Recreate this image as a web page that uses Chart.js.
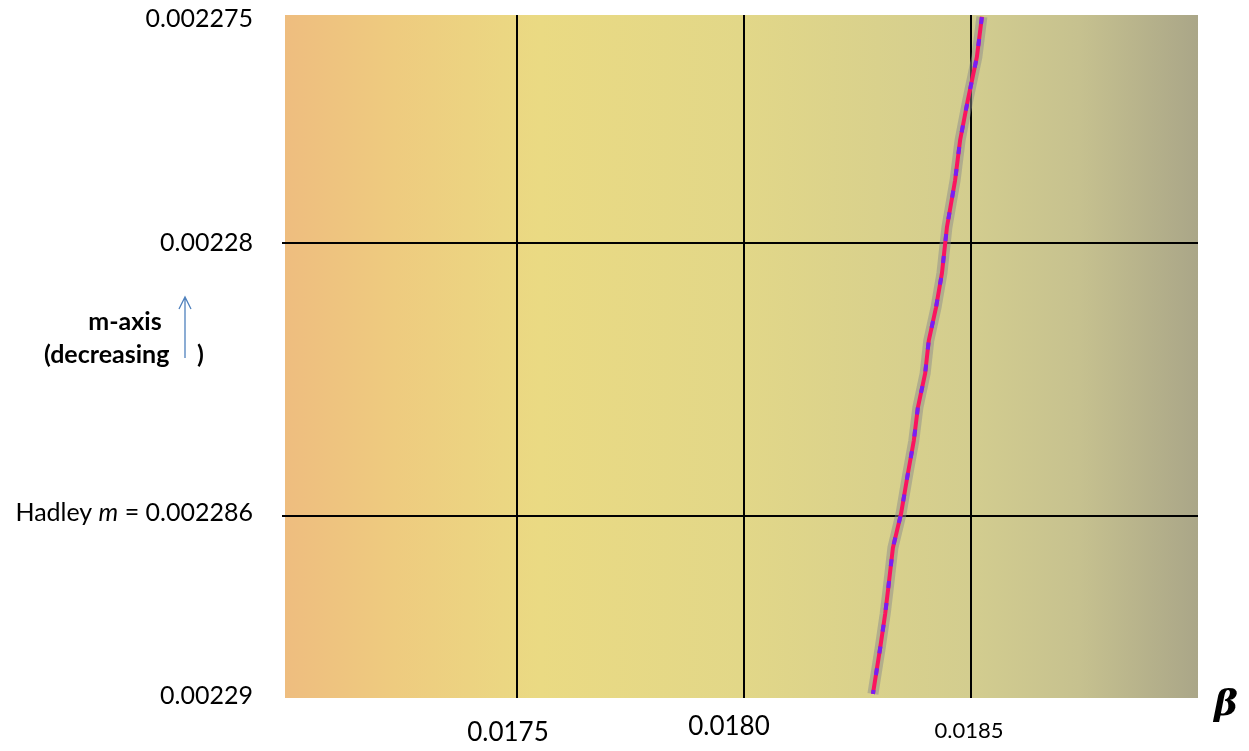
<!DOCTYPE html>
<html>
<head>
<meta charset="utf-8">
<script src="https://cdn.jsdelivr.net/npm/chart.js@4"></script>
<style>
  html, body { margin: 0; padding: 0; background: #fff; }
  #wrap { width: 1249px; height: 751px; }
</style>
</head>
<body>
<div id="wrap"><canvas id="betaChart" width="1249" height="751"></canvas></div>
<script>
// curve: beta (x) vs m (y, axis reversed)
const betaValues = [0.018284, 0.018300, 0.018311, 0.018317, 0.018328, 0.018346, 0.018361, 0.018374,
  0.018383, 0.018399, 0.018407, 0.018423, 0.018436, 0.018447, 0.018465, 0.018476, 0.018493, 0.018513, 0.018524];
const mValues = [0.00228991, 0.00228890, 0.00228815, 0.00228765, 0.00228670, 0.00228595, 0.00228507, 0.00228435,
  0.00228362, 0.00228287, 0.00228215, 0.00228142, 0.00228067, 0.00227966, 0.00227863, 0.00227775, 0.00227687, 0.00227592, 0.00227504];

// axis ticks
const xTicks = [0.0175, 0.0180, 0.0185];
const xTickLabels = ['0.0175', '0.0180', '0.0185'];
const yTicks = [0.002275, 0.00228, 0.002286, 0.00229];
const yTickLabels = ['0.002275', '0.00228', 'Hadley m = 0.002286', '0.00229'];
const yGridTicks = [0.00228, 0.002286];

const points = betaValues.map((b, i) => ({ x: b, y: mValues[i] }));

// fond en dégradé dans la zone du graphe
const backgroundPlugin = {
  id: 'bg',
  beforeDraw(chart) {
    const { ctx, chartArea: a } = chart;
    ctx.save();
    ctx.fillStyle = '#ffffff';
    ctx.fillRect(0, 0, chart.width, chart.height);
    const g = ctx.createLinearGradient(a.left, 0, a.right, 0);
    g.addColorStop(0, 'rgb(238,189,127)');
    g.addColorStop(0.12, 'rgb(238,203,127)');
    g.addColorStop(0.28, 'rgb(234,218,131)');
    g.addColorStop(0.5, 'rgb(226,215,136)');
    g.addColorStop(0.75, 'rgb(211,205,143)');
    g.addColorStop(0.87, 'rgb(198,193,143)');
    g.addColorStop(1, 'rgb(170,166,136)');
    ctx.fillStyle = g;
    ctx.fillRect(a.left, a.top, a.right - a.left, a.bottom - a.top);
    ctx.restore();
  }
};

// etiquetas de los ejes y notas
const labelsPlugin = {
  id: 'labels',
  afterDraw(chart) {
    const { ctx, chartArea: a } = chart;
    const xs = chart.scales.x, ys = chart.scales.y;
    ctx.save();
    ctx.fillStyle = '#000';
    ctx.textBaseline = 'middle';

    // y tick labels
    ctx.textAlign = 'right';
    yTicks.forEach((v, i) => {
      const py = ys.getPixelForValue(v) + (i === 0 ? 4 : (i === 3 ? -2 : 0));
      const txt = yTickLabels[i];
      ctx.font = '25px Lato';
      if (txt.startsWith('Hadley')) {
        const num = ' = 0.002286';
        const wNum = ctx.measureText(num).width;
        ctx.fillText(num, 253, py - 3);
        ctx.font = 'italic 25px Lato';
        const wM = ctx.measureText('m').width;
        ctx.fillText('m', 253 - wNum, py - 3);
        ctx.font = '25px Lato';
        ctx.fillText('Hadley ', 253 - wNum - wM, py - 3);
      } else {
        ctx.fillText(txt, 253, py);
      }
    });

    // x tick labels
    ctx.textAlign = 'center';
    const xOff = [[-9, 35, 26], [-15, 29, 26], [-2, 33, 22]];
    xTicks.forEach((v, i) => {
      const px = xs.getPixelForValue(v) + xOff[i][0];
      ctx.font = xOff[i][2] + 'px Lato';
      ctx.fillText(xTickLabels[i], px, a.bottom + xOff[i][1]);
    });

    // m-axis note
    ctx.font = 'bold 25px Lato';
    ctx.textAlign = 'center';
    ctx.fillText('m-axis', 125, 322);
    ctx.textAlign = 'left';
    ctx.fillText('(decreasing', 44, 355);
    ctx.fillText(')', 197, 355);

    // blue arrow
    ctx.strokeStyle = 'rgb(79,129,189)';
    ctx.lineWidth = 1.3;
    ctx.beginPath();
    ctx.moveTo(185, 358);
    ctx.lineTo(185, 297);
    ctx.moveTo(179, 309);
    ctx.lineTo(185, 297);
    ctx.lineTo(191, 309);
    ctx.stroke();

    // beta
    ctx.font = 'bold italic 36px "DejaVu Serif"';
    ctx.textAlign = 'center';
    ctx.fillText('\u03B2', 1226, 706);
    ctx.restore();
  }
};

const ctx = document.getElementById('betaChart').getContext('2d');
const betaChart = new Chart(ctx, {
  type: 'scatter',
  data: {
    datasets: [
      {
        // purple dashes on top
        data: points,
        showLine: true,
        borderColor: 'rgb(120,30,245)',
        borderWidth: 4,
        borderDash: [7, 15],
        borderDashOffset: 3,
        pointRadius: 0,
        order: 1
      },
      {
        data: points,
        showLine: true,
        borderColor: 'rgb(250,20,95)',
        borderWidth: 4,
        pointRadius: 0,
        order: 2
      },
      {
        // grey halo underneath
        data: points,
        showLine: true,
        borderColor: 'rgba(140,140,140,0.5)',
        borderWidth: 11,
        pointRadius: 0,
        order: 3
      }
    ]
  },
  options: {
    responsive: false,
    animation: false,
    devicePixelRatio: 1,
    layout: { padding: { left: 285, top: 15, right: 51, bottom: 53 } },
    plugins: {
      legend: { display: false },
      tooltip: { enabled: false }
    },
    scales: {
      x: {
        type: 'linear',
        min: 0.016989,
        max: 0.019,
        afterFit: (scale) => { scale.height = 0; },
        afterBuildTicks: (scale) => { scale.ticks = xTicks.map(v => ({ value: v })); },
        ticks: { display: false },
        border: { display: false },
        grid: { color: '#000', lineWidth: 2, drawTicks: false }
      },
      y: {
        type: 'linear',
        reverse: true,
        min: 0.002275,
        max: 0.00229,
        afterFit: (scale) => { scale.width = 0; },
        afterBuildTicks: (scale) => { scale.ticks = yTicks.map(v => ({ value: v })); },
        ticks: { display: false },
        border: { display: false },
        grid: {
          color: (c) => (c.tick && yGridTicks.includes(c.tick.value)) ? '#000' : 'rgba(0,0,0,0)',
          lineWidth: 2,
          tickLength: 3
        }
      }
    }
  },
  plugins: [backgroundPlugin, labelsPlugin]
});
</script>
</body>
</html>
